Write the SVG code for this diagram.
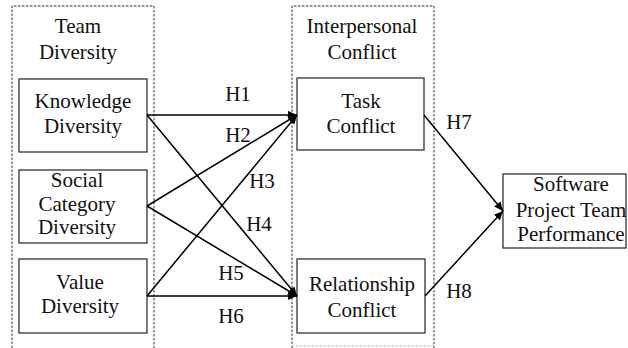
<svg xmlns="http://www.w3.org/2000/svg" width="628" height="348" viewBox="0 0 628 348">
<defs>
<marker id="ah" viewBox="0 0 10 10" refX="10" refY="5" markerWidth="9" markerHeight="9" markerUnits="userSpaceOnUse" orient="auto">
<path d="M0,0.5 L10,5 L0,9.5 Z" fill="#000"/>
</marker>
<style>
text{font-family:"Liberation Serif","Times New Roman",serif;font-size:21px;fill:#111;text-anchor:middle}
.box{fill:#fff;stroke:#333;stroke-width:1.3}
.grp{fill:none;stroke:#333;stroke-width:1;stroke-dasharray:2.5,1.5}
.con{stroke:#000;stroke-width:1.5;fill:none;marker-end:url(#ah)}
</style>
</defs>
<rect width="628" height="348" fill="#fff"/>
<g id="team-diversity">
<path class="grp" d="M12,348 V6 H154 V348"/>
<text x="78" y="33">Team</text>
<text x="78" y="59">Diversity</text>
</g>
<g id="interpersonal-conflict">
<path class="grp" d="M292,348 V6 H434 V348"/>
<path d="M292,346 H434" fill="none" stroke="#bbb" stroke-width="1" stroke-dasharray="2.5,1.5"/>
<text x="362" y="33">Interpersonal</text>
<text x="362" y="59">Conflict</text>
</g>
<g id="knowledge">
<rect class="box" x="19" y="79" width="128" height="73"/>
<text x="83" y="108">Knowledge</text>
<text x="83" y="133">Diversity</text>
</g>
<g id="social">
<rect class="box" x="19" y="170" width="128" height="73"/>
<text x="77" y="187">Social</text>
<text x="77" y="211">Category</text>
<text x="77" y="234">Diversity</text>
</g>
<g id="value">
<rect class="box" x="19" y="259" width="128" height="74"/>
<text x="80" y="289">Value</text>
<text x="80" y="313">Diversity</text>
</g>
<g id="task">
<rect class="box" x="297" y="78" width="127" height="72"/>
<text x="361" y="108">Task</text>
<text x="361" y="133">Conflict</text>
</g>
<g id="relationship">
<rect class="box" x="297" y="259" width="128" height="74"/>
<text x="362" y="291">Relationship</text>
<text x="362" y="317">Conflict</text>
</g>
<g id="performance">
<rect class="box" x="503" y="174" width="123" height="74"/>
<text x="571" y="191">Software</text>
<text x="571" y="217">Project Team</text>
<text x="571" y="241">Performance</text>
</g>
<g id="connectors">
<line class="con" x1="147" y1="115" x2="297" y2="115"/>
<line class="con" x1="147" y1="115" x2="297" y2="296"/>
<line class="con" x1="147" y1="206" x2="297" y2="115"/>
<line class="con" x1="147" y1="206" x2="297" y2="296"/>
<line class="con" x1="147" y1="296" x2="297" y2="115"/>
<line class="con" x1="147" y1="296" x2="297" y2="296"/>
<line class="con" x1="424" y1="115" x2="503" y2="211"/>
<line class="con" x1="425" y1="296" x2="503" y2="211"/>
<text x="238" y="101">H1</text>
<text x="238" y="142">H2</text>
<text x="262" y="188">H3</text>
<text x="259" y="231">H4</text>
<text x="231" y="280">H5</text>
<text x="231" y="323">H6</text>
<text x="459" y="129">H7</text>
<text x="459" y="298">H8</text>
</g>
</svg>
